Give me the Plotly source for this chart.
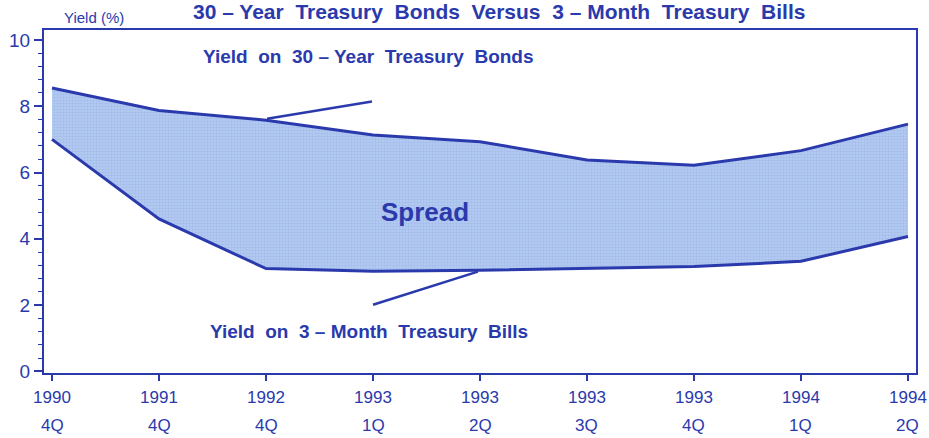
import plotly.graph_objects as go

years = ["1990", "1991", "1992", "1993", "1993", "1993", "1993", "1994", "1994"]
quarters = ["4Q", "4Q", "4Q", "1Q", "2Q", "3Q", "4Q", "1Q", "2Q"]
bonds_30yr = [8.55, 7.87, 7.58, 7.13, 6.93, 6.38, 6.22, 6.66, 7.46]
bills_3mo = [7.0, 4.6, 3.1, 3.02, 3.05, 3.1, 3.16, 3.32, 4.07]

BLUE = "#2a3aac"
FONT = "Liberation Sans, Arial, sans-serif"
xs = list(range(len(years)))

fig = go.Figure()
fig.add_trace(go.Scatter(x=xs, y=bills_3mo, mode="lines",
                         line=dict(color=BLUE, width=3), showlegend=False))
fig.add_trace(go.Scatter(x=xs, y=bonds_30yr, mode="lines", fill="tonexty",
                         fillcolor="#adc2ee",
                         fillpattern=dict(shape=".", fgcolor="#9ea6e4", bgcolor="#b2d0f2",
                                          size=3, solidity=0.5),
                         line=dict(color=BLUE, width=3), showlegend=False))

# leader lines
fig.add_shape(type="line", x0=2.01, y0=7.62, x1=2.99, y1=8.14,
              line=dict(color=BLUE, width=2.5))
fig.add_shape(type="line", x0=3.0, y0=2.01, x1=3.98, y1=3.01,
              line=dict(color=BLUE, width=2.5))

ann = [
    dict(x=2.96, y=9.49, text="Yield  on  30 – Year  Treasury  Bonds", size=19),
    dict(x=2.96, y=1.2, text="Yield  on  3 – Month  Treasury  Bills", size=19),
    dict(x=3.49, y=4.81, text="Spread", size=26),
]
for a in ann:
    fig.add_annotation(x=a["x"], y=a["y"], xref="x", yref="y", text="<b>" + a["text"] + "</b>",
                       showarrow=False, font=dict(family=FONT, size=a["size"], color=BLUE))

# quarter labels (second row of x tick labels)
for xi, q in zip(xs, quarters):
    fig.add_annotation(x=xi, y=0, xref="x", yref="paper", yanchor="middle", yshift=-52, text=q,
                       showarrow=False, font=dict(family=FONT, size=17, color=BLUE))

fig.add_annotation(x=0.522, y=1.0, xref="paper", yref="paper", yanchor="middle", yshift=19,
                   xanchor="center",
                   text="<b>30 – Year  Treasury  Bonds  Versus  3 – Month  Treasury  Bills</b>",
                   showarrow=False, font=dict(family=FONT, size=21, color=BLUE))
fig.add_annotation(x=(94 - 44) / (929 - 44 - 13), y=1.0, xref="paper", yref="paper",
                   yanchor="middle", yshift=13,
                   xanchor="center", text="Yield (%)", showarrow=False,
                   font=dict(family=FONT, size=15, color=BLUE))

fig.update_layout(
    width=929, height=438,
    margin=dict(l=44, r=13, t=30, b=65, autoexpand=False),
    paper_bgcolor="white", plot_bgcolor="white",
    font=dict(family=FONT, color=BLUE),
)
fig.update_xaxes(
    range=[-0.075, 8.075], tickvals=xs, ticktext=years,
    ticks="outside", ticklen=6, tickwidth=1.5, tickcolor=BLUE,
    ticklabelstandoff=2,
    showline=True, linecolor=BLUE, linewidth=2, mirror=True,
    showgrid=False, zeroline=False,
    tickfont=dict(family=FONT, size=17, color=BLUE),
)
fig.update_yaxes(
    range=[-0.05, 10.3], tickvals=[0, 2, 4, 6, 8, 10],
    ticks="outside", ticklen=8, tickwidth=1.5, tickcolor=BLUE,
    minor=dict(dtick=0.4, tick0=0, ticks="outside", ticklen=4, tickcolor=BLUE, tickwidth=1),
    showline=True, linecolor=BLUE, linewidth=2, mirror=True,
    showgrid=False, zeroline=False,
    tickfont=dict(family=FONT, size=19, color=BLUE),
)

fig.write_html("out.html", config={"displayModeBar": False},
               post_script="document.body.style.margin='0';document.body.style.overflow='hidden';")
